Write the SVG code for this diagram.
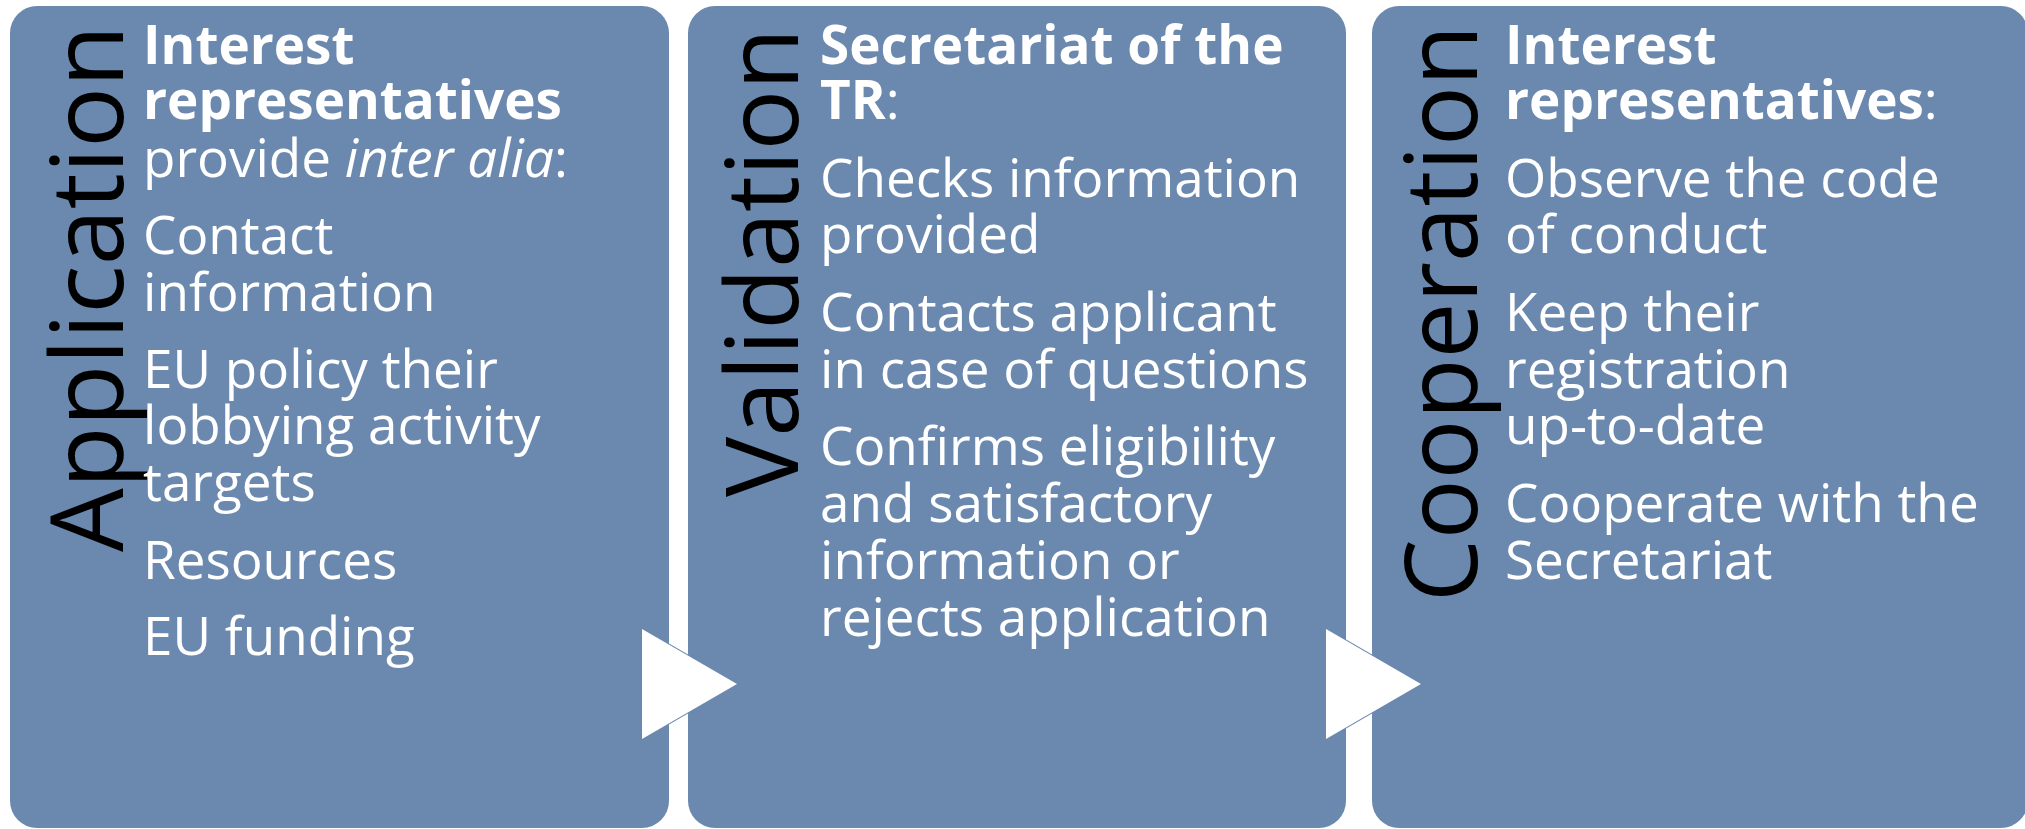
<svg xmlns="http://www.w3.org/2000/svg" width="2025" height="829" viewBox="0 0 2025 829">
  <style>
    .box { fill: #6b89af; }
    .title { font-family: "Open Sans", "Liberation Sans", sans-serif; font-size: 101px; fill: #000000; }
    .body { font-family: "Open Sans", "Liberation Sans", sans-serif; font-size: 53px; fill: #ffffff; }
    .b { font-weight: bold; }
    .i { font-style: italic; }
    .arrow { fill: #ffffff; }
    .arrow-edge { fill: #6b89af; }
  </style>
  <rect width="2025" height="829" fill="#ffffff"/>

  <!-- Step 1 -->
  <g id="step-application">
    <rect class="box" x="10" y="6" width="659" height="822" rx="27" ry="27"/>
    <text class="title" transform="translate(123,552) rotate(-90)" textLength="527" lengthAdjust="spacingAndGlyphs">Application</text>
    <text class="body" x="143">
      <tspan x="143" y="64" class="b">Interest</tspan>
      <tspan x="143" y="119" class="b">representatives</tspan>
      <tspan x="143" y="177">provide <tspan class="i">inter alia</tspan>:</tspan>
      <tspan x="143" y="254">Contact</tspan>
      <tspan x="143" y="311">information</tspan>
      <tspan x="143" y="388">EU policy their</tspan>
      <tspan x="143" y="444">lobbying activity</tspan>
      <tspan x="143" y="501">targets</tspan>
      <tspan x="143" y="579">Resources</tspan>
      <tspan x="143" y="655">EU funding</tspan>
    </text>
  </g>

  <!-- Step 2 -->
  <g id="step-validation">
    <rect class="box" x="688" y="6" width="658" height="822" rx="27" ry="27"/>
    <text class="title" transform="translate(798,497) rotate(-90)" textLength="469" lengthAdjust="spacingAndGlyphs">Validation</text>
    <text class="body" x="820">
      <tspan x="820" y="64" class="b">Secretariat of the</tspan>
      <tspan x="820" y="119"><tspan class="b">TR</tspan>:</tspan>
      <tspan x="820" y="197">Checks information</tspan>
      <tspan x="820" y="253">provided</tspan>
      <tspan x="820" y="331">Contacts applicant</tspan>
      <tspan x="820" y="388">in case of questions</tspan>
      <tspan x="820" y="465">Confirms eligibility</tspan>
      <tspan x="820" y="522">and satisfactory</tspan>
      <tspan x="820" y="579">information or</tspan>
      <tspan x="820" y="636">rejects application</tspan>
    </text>
  </g>

  <!-- Step 3 -->
  <g id="step-cooperation">
    <rect class="box" x="1372" y="6" width="656" height="822" rx="27" ry="27"/>
    <text class="title" transform="translate(1477,602) rotate(-90)" textLength="577" lengthAdjust="spacingAndGlyphs">Cooperation</text>
    <text class="body" x="1505">
      <tspan x="1505" y="64" class="b">Interest</tspan>
      <tspan x="1505" y="119"><tspan class="b">representatives</tspan>:</tspan>
      <tspan x="1505" y="197">Observe the code</tspan>
      <tspan x="1505" y="253">of conduct</tspan>
      <tspan x="1505" y="331">Keep their</tspan>
      <tspan x="1505" y="388">registration</tspan>
      <tspan x="1505" y="444">up-to-date</tspan>
      <tspan x="1505" y="522">Cooperate with the</tspan>
      <tspan x="1505" y="579">Secretariat</tspan>
    </text>
  </g>

  <!-- Flow arrows between steps -->
  <g id="connectors">
    <polygon class="arrow-edge" points="644,629 739,684 644,739"/>
    <polygon class="arrow" points="642,629 737,684 642,739"/>
    <polygon class="arrow-edge" points="1328,629 1423,684 1328,739"/>
    <polygon class="arrow" points="1326,629 1421,684 1326,739"/>
  </g>
</svg>
